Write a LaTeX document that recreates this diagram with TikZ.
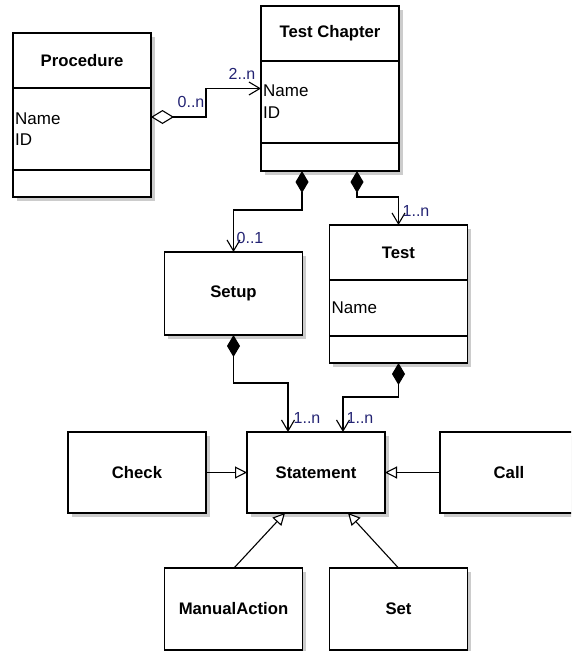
\documentclass[tikz,border=0pt]{standalone}
\usepackage{fontspec}
\setmainfont{Liberation Sans}
\usetikzlibrary{arrows.meta,shadows}
\definecolor{multcol}{RGB}{35,35,115}
\begin{document}
\begin{tikzpicture}[x=1pt,y=-1pt,
  umlbox/.style={draw, line width=1.3pt, fill=white, minimum width=138pt,
    inner sep=0pt, outer sep=0pt, font=\bfseries\fontsize{16.7}{19}\selectfont,
    drop shadow={shadow xshift=3.5pt, shadow yshift=-3.5pt, fill=black!20, opacity=1}},
  clsname/.style={font=\bfseries\fontsize{16.7}{19}\selectfont, inner sep=0pt},
  clsattr/.style={font=\fontsize{17}{19}\selectfont, inner sep=0pt, anchor=west},
  multlabel/.style={font=\fontsize{16}{18}\selectfont, text=multcol, inner sep=0pt},
  sepline/.style={line width=1.3pt},
  assoc/.style={line width=1.1pt},
  compos/.style={assoc, {Diamond[length=22pt,width=13pt]}-{Straight Barb[length=11pt,width=13pt]}},
  aggreg/.style={assoc, {Diamond[open,length=23pt,width=14pt,fill=white]}-{Straight Barb[length=11pt,width=13pt]}},
  inherit/.style={assoc, -{Triangle[open,length=12pt,width=12pt,fill=white]}}
]
\useasboundingbox (0,0) rectangle (571,651);
\clip (0,0) rectangle (571,651);

% class boxes
\node[umlbox, minimum height=164pt] (proc) at (82,115) {};
\node[umlbox, minimum height=165pt] (chap) at (330,88.5) {};
\node[umlbox, minimum height=83pt] (setup) at (233.5,293.5) {Setup};
\node[umlbox, minimum height=138pt] (test) at (398.5,294) {};
\node[umlbox, minimum height=81pt] (stmt) at (316,472.5) {Statement};
\node[umlbox, minimum height=81pt] (check) at (137,472.5) {Check};
\node[umlbox, minimum height=81pt] (call) at (509,472.5) {Call};
\node[umlbox, minimum height=82pt] (manual) at (233.5,609) {ManualAction};
\node[umlbox, minimum height=82pt] (set) at (398.5,609) {Set};

% compartments
\draw[sepline] ([yshift=-55pt]proc.north west) -- ([yshift=-55pt]proc.north east);
\draw[sepline] ([yshift=-137pt]proc.north west) -- ([yshift=-137pt]proc.north east);
\draw[sepline] ([yshift=-55pt]chap.north west) -- ([yshift=-55pt]chap.north east);
\draw[sepline] ([yshift=-137pt]chap.north west) -- ([yshift=-137pt]chap.north east);
\draw[sepline] ([yshift=-55pt]test.north west) -- ([yshift=-55pt]test.north east);
\draw[sepline] ([yshift=-111pt]test.north west) -- ([yshift=-111pt]test.north east);

% names and attributes
\node[clsname] (procT) at ([yshift=-27.5pt]proc.north) {Procedure};
\node[clsattr] (procA) at ([xshift=2pt,yshift=-86pt]proc.north west) {Name};
\node[clsattr] (procB) at ([xshift=2pt,yshift=-107pt]proc.north west) {ID};
\node[clsname] (chapT) at ([yshift=-27.5pt]chap.north) {Test Chapter};
\node[clsattr] (chapA) at ([xshift=2pt,yshift=-85pt]chap.north west) {Name};
\node[clsattr] (chapB) at ([xshift=2pt,yshift=-107pt]chap.north west) {ID};
\node[clsname] (testT) at ([yshift=-28pt]test.north) {Test};
\node[clsattr] (testA) at ([xshift=2pt,yshift=-83pt]test.north west) {Name};

% associations
\draw[aggreg] ([yshift=-2pt]proc.east) -- ++(55,0) |- (chap.west);
\draw[compos] ([xshift=-28pt]chap.south) -- ++(0,39) -| (setup.north);
\draw[compos] ([xshift=27pt]chap.south) -- ++(0,26) -| (test.north);
\draw[compos] (setup.south) -- ++(0,48) -| ([xshift=-28pt]stmt.north);
\draw[compos] (test.south) -- ++(0,34) -| ([xshift=27pt]stmt.north);

% generalizations
\draw[inherit] (check) -- (stmt);
\draw[inherit] (call) -- (stmt);
\draw[inherit] ([xshift=0.5pt]manual.north) -- ([xshift=-31pt]stmt.south);
\draw[inherit] (set.north) -- ([xshift=32pt]stmt.south);

% multiplicities
\node[multlabel] (m1) at (191,102) {0..n};
\node[multlabel] (m2) at (242,74) {2..n};
\node[multlabel] (m3) at (250,238) {0..1};
\node[multlabel] (m4) at (416,211) {1..n};
\node[multlabel] (m5) at (307,418) {1..n};
\node[multlabel] (m6) at (360,418) {1..n};
\end{tikzpicture}
\end{document}
